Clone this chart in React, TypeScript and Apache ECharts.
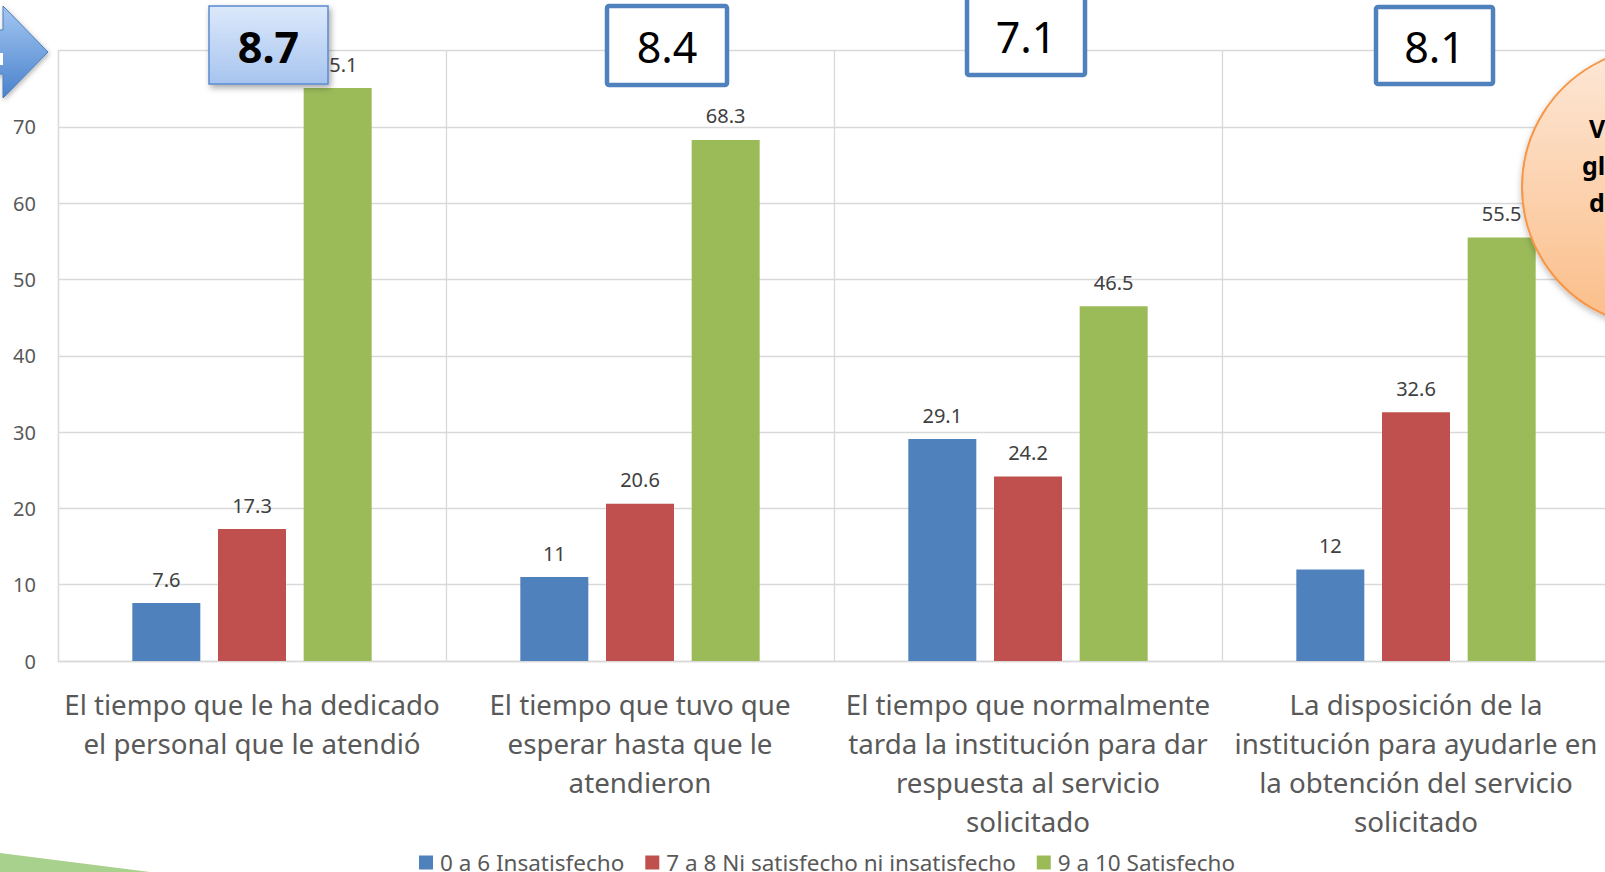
import React, { useEffect, useRef } from 'react';
import * as echarts from 'echarts';

const categories = [
  'El tiempo que le ha dedicado\nel personal que le atendió',
  'El tiempo que tuvo que\nesperar hasta que le\natendieron',
  'El tiempo que normalmente\ntarda la institución para dar\nrespuesta al servicio\nsolicitado',
  'La disposición de la\ninstitución para ayudarle en\nla obtención del servicio\nsolicitado',
];
const seriesNames = ['0 a 6 Insatisfecho', '7 a 8 Ni satisfecho ni insatisfecho', '9 a 10 Satisfecho'];
const insatisfecho = [7.6, 11, 29.1, 12];
const niSatisfecho = [17.3, 20.6, 24.2, 32.6];
const satisfecho = [75.1, 68.3, 46.5, 55.5];
const scores = ['8.7', '8.4', '7.1', '8.1'];
const yMin = 0;
const yMax = 80;
const yInterval = 10;
const circleLines = ['Valoración', 'global', 'del servicio'];

const colors = ['#4F81BD', '#C0504D', '#9BBB59'];
const FONT = '"Noto Sans", Lato, sans-serif';

export default function App() {
  const ref = useRef<HTMLDivElement>(null);
  useEffect(() => {
    document.body.style.margin = '0';
    const chart = echarts.init(ref.current!, null, { renderer: 'svg' });
    const mkSeries = (name: string, data: number[], color: string) => ({
      name,
      type: 'bar',
      data,
      barWidth: 68,
      barGap: '26%',
      itemStyle: { color },
      label: {
        show: true,
        position: 'top',
        distance: 14,
        color: '#404040',
        fontSize: 20,
        fontFamily: FONT,
      },
    });
    const boxes: any[] = [
      { x: 209, y: 6, w: 119, h: 78, fancy: true },
      { x: 607, y: 6, w: 120, h: 79, fancy: false },
      { x: 967, y: -4, w: 118, h: 79, fancy: false },
      { x: 1376, y: 7, w: 117, h: 77, fancy: false },
    ];
    const graphics: any[] = [];
    boxes.forEach((b, i) => {
      graphics.push({
        type: 'rect',
        z: 100,
        shape: { x: b.x, y: b.y, width: b.w, height: b.h, r: b.fancy ? 0 : 2 },
        style: b.fancy
          ? {
              fill: new echarts.graphic.LinearGradient(0, 0, 0, 1, [
                { offset: 0, color: '#dce9fb' },
                { offset: 1, color: '#a7c4ef' },
              ]),
              stroke: '#5a8ad0',
              lineWidth: 1.5,
              shadowBlur: 6,
              shadowOffsetX: 2,
              shadowOffsetY: 3,
              shadowColor: 'rgba(0,0,0,0.35)',
            }
          : { fill: '#ffffff', stroke: '#4F81BD', lineWidth: 4.5 },
      });
      graphics.push({
        type: 'text',
        z: 101,
        x: b.x + b.w / 2,
        y: b.y + b.h / 2 + 1,
        style: {
          text: scores[i],
          font: (b.fancy ? 'bold ' : '') + '43px ' + FONT,
          fill: '#000000',
          align: 'center',
          verticalAlign: 'middle',
        },
      });
    });
    // arrow at top-left
    graphics.push({
      type: 'polygon',
      z: 100,
      shape: {
        points: [
          [-60, 30],
          [3, 30],
          [3, 6],
          [48, 52],
          [3, 98],
          [3, 74],
          [-60, 74],
        ],
      },
      style: {
        fill: new echarts.graphic.LinearGradient(0, 0, 0, 1, [
          { offset: 0, color: '#a3c7f2' },
          { offset: 1, color: '#4a82cc' },
        ]),
        stroke: '#4a7ebb',
        lineWidth: 1,
        shadowBlur: 5,
        shadowOffsetX: 1,
        shadowOffsetY: 2,
        shadowColor: 'rgba(0,0,0,0.3)',
      },
    });
    graphics.push({
      type: 'rect',
      z: 101,
      shape: { x: 0, y: 53, width: 3, height: 12 },
      style: { fill: '#ffffff' },
    });
    // circle at right
    graphics.push({
      type: 'circle',
      z: 100,
      shape: { cx: 1662, cy: 187, r: 140 },
      style: {
        fill: new echarts.graphic.LinearGradient(0, 0, 0, 1, [
          { offset: 0, color: '#fde8d8' },
          { offset: 1, color: '#fbbd87' },
        ]),
        stroke: '#f79646',
        lineWidth: 2,
        shadowBlur: 6,
        shadowOffsetY: 3,
        shadowColor: 'rgba(0,0,0,0.25)',
      },
    });
    const circleX = [1589, 1582, 1589];
    circleLines.forEach((t, i) => {
      graphics.push({
        type: 'text',
        z: 101,
        x: circleX[i],
        y: 128 + i * 37,
        style: {
          text: t,
          font: 'bold 25px ' + FONT,
          fill: '#000000',
          align: 'left',
          verticalAlign: 'middle',
        },
      });
    });
    // green shape bottom-left
    graphics.push({
      type: 'polygon',
      z: 100,
      shape: { points: [[0, 853], [150, 872], [0, 872]] },
      style: { fill: '#a9d18e' },
    });

    chart.setOption({
      animation: false,
      color: colors,
      grid: { left: 58, top: 50.7, width: 1552, height: 610.3, containLabel: false },
      legend: {
        data: seriesNames,
        left: 419,
        top: 851,
        padding: 0,
        icon: 'rect',
        itemWidth: 14,
        itemHeight: 14,
        itemGap: 21,
        textStyle: { color: '#595959', fontSize: 22.5, lineHeight: 20, fontFamily: FONT, padding: [0, 0, 0, 2] },
      },
      xAxis: {
        type: 'category',
        data: categories,
        axisLine: { show: true, lineStyle: { color: '#d9d9d9', width: 1.3 } },
        axisTick: { show: false },
        splitLine: { show: true, lineStyle: { color: '#d9d9d9', width: 1.3 } },
        axisLabel: {
          interval: 0,
          color: '#595959',
          fontSize: 27.7,
          lineHeight: 39,
          margin: 23,
          fontFamily: FONT,
        },
      },
      yAxis: {
        type: 'value',
        min: yMin,
        max: yMax,
        interval: yInterval,
        axisLine: { show: true, lineStyle: { color: '#d9d9d9', width: 1.3 } },
        axisTick: { show: false },
        splitLine: { show: true, lineStyle: { color: '#d9d9d9', width: 1.3 } },
        axisLabel: { color: '#595959', fontSize: 20, margin: 22, fontFamily: FONT },
      },
      series: [
        mkSeries(seriesNames[0], insatisfecho, colors[0]),
        mkSeries(seriesNames[1], niSatisfecho, colors[1]),
        mkSeries(seriesNames[2], satisfecho, colors[2]),
      ],
      graphic: graphics,
    });
    return () => chart.dispose();
  }, []);
  return (
    <div style={{ width: 1605, height: 872, overflow: 'hidden', position: 'relative' }}>
      <div ref={ref} style={{ width: 1625, height: 872 }} />
    </div>
  );
}
